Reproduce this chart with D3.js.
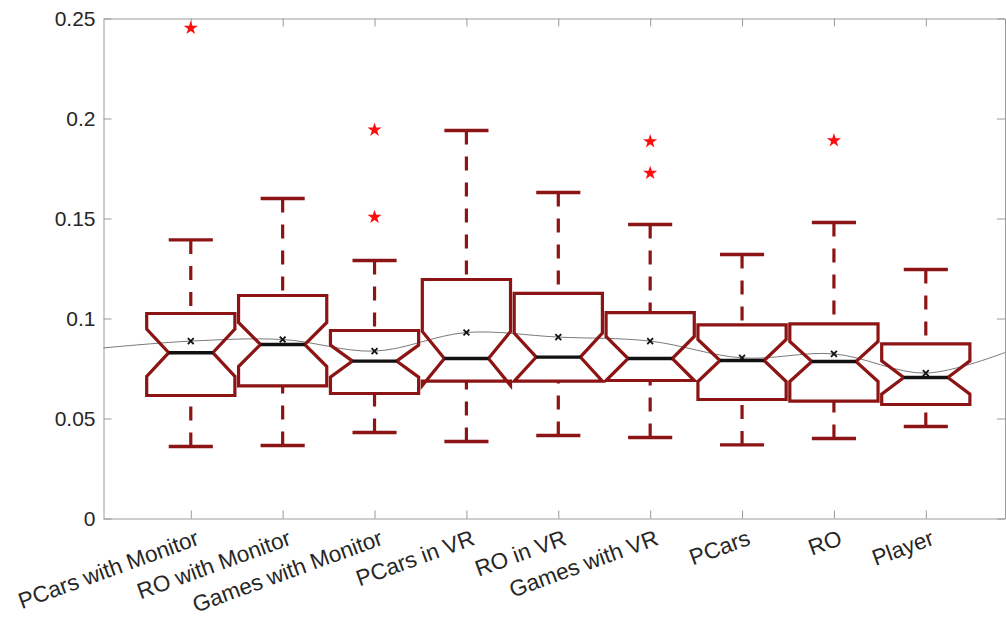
<!DOCTYPE html>
<html>
<head>
<meta charset="utf-8">
<script src="https://cdn.jsdelivr.net/npm/d3@7"></script>
<style>
	body { margin: 0; background: #fff; }
	svg { display: block; }
	.axis text { font-family: 'Liberation Sans', Arial, sans-serif; font-size: 21px; fill: #262626; }
	.axis line, .axis path { stroke: #9a9a9a; stroke-width: 1; }
	.xlabels text { font-size: 22.5px; }
</style>
</head>
<body>
<svg></svg>
<script>
var width = 1006;
var height = 619;

// values
var categories = ['PCars with Monitor', 'RO with Monitor', 'Games with Monitor', 'PCars in VR',
	'RO in VR', 'Games with VR', 'PCars', 'RO', 'Player'];
var upperWhisker = [0.1393, 0.160, 0.129, 0.194, 0.163, 0.147, 0.132, 0.148, 0.1245];
var q3 = [0.1025, 0.1115, 0.094, 0.1195, 0.1126, 0.1029, 0.0968, 0.0973, 0.0873];
var medians = [0.0829, 0.087, 0.0787, 0.080, 0.0807, 0.080, 0.079, 0.0785, 0.0705];
var q1 = [0.0615, 0.0663, 0.0625, 0.0687, 0.0687, 0.069, 0.0595, 0.0587, 0.057];
var lowerWhisker = [0.036, 0.0365, 0.043, 0.0385, 0.0415, 0.0405, 0.0368, 0.040, 0.046];
var means = [0.0887, 0.0895, 0.0837, 0.093, 0.0907, 0.0887, 0.0803, 0.0823, 0.0727];
var notchHalf = [0.0118, 0.011, 0.008, 0.0135, 0.012, 0.011, 0.0105, 0.010, 0.0083];
var outliers = [[1, 0.2452], [3, 0.1943], [3, 0.1507], [6, 0.1885], [6, 0.1727], [8, 0.189]];
var trendEnds = [0.0853, 0.083];
var yTicks = [0, 0.05, 0.1, 0.15, 0.2, 0.25];
var yTickLabels = ['0', '0.05', '0.1', '0.15', '0.2', '0.25'];

var xDomain = [0.05, 9.862];
var boxWidth = 0.96;
var boxColor = '#8c1414';

var svg = d3.select('svg')
			.attr('width', width)
			.attr('height', height);

var xScale = d3.scaleLinear()
			   .domain(xDomain)
			   .range([103.5, 1005]);
var yScale = d3.scaleLinear()
			   .domain([0, 0.25])
			   .range([518.5, 18.5]);

var positions = categories.map((c, i) => i + 1);

drawAxes();
drawTrend();
positions.forEach((p, i) => drawBox(p, i));
drawOutliers();

function drawAxes() {
	var xAxis = d3.axisBottom(xScale)
				  .tickValues(positions)
				  .tickFormat('')
				  .tickSize(-8)
				  .tickSizeOuter(0);
	var xTop = d3.axisTop(xScale)
				 .tickValues(positions)
				 .tickFormat('')
				 .tickSize(-8)
				 .tickSizeOuter(0);
	var yAxis = d3.axisLeft(yScale)
				  .tickValues(yTicks)
				  .tickFormat((d, i) => yTickLabels[i])
				  .tickSize(-8)
				  .tickSizeOuter(0)
				  .tickPadding(8);
	var yRight = d3.axisRight(yScale)
				   .tickValues(yTicks)
				   .tickFormat('')
				   .tickSize(-8)
				   .tickSizeOuter(0);

	svg.append('g')
	    .classed('axis', true)
	    .attr('transform', `translate(0, ${yScale(0)})`)
	    .call(xAxis);
	svg.append('g')
	    .classed('axis', true)
	    .attr('transform', `translate(0, ${yScale(0.25)})`)
	    .call(xTop);
	svg.append('g')
	    .classed('axis', true)
	    .attr('transform', `translate(${xScale(xDomain[0])}, 0)`)
	    .call(yAxis);
	svg.append('g')
	    .classed('axis', true)
	    .attr('transform', `translate(${xScale(xDomain[1])}, 0)`)
	    .call(yRight);

	// rotated category labels
	svg.append('g')
	    .classed('axis', true)
	    .classed('xlabels', true)
	  .selectAll('text')
	  .data(categories)
	  .enter()
	  .append('text')
	    .attr('text-anchor', 'end')
	    .attr('x', (d, i) => xScale(positions[i]) + 4)
	    .attr('y', 529)
	    .attr('dy', '0.72em')
	    .attr('transform', (d, i) => `rotate(-20, ${xScale(positions[i]) + 4}, 529)`)
	    .text(d => d);
}

function drawTrend() {
	var pts = [[xDomain[0], trendEnds[0]]]
		.concat(means.map((m, i) => [positions[i], m]))
		.concat([[xDomain[1], trendEnds[1]]]);
	var line = d3.line()
				 .x(d => xScale(d[0]))
				 .y(d => yScale(d[1]))
				 .curve(d3.curveCatmullRom.alpha(0.5));
	svg.append('path')
	    .attr('d', line(pts))
	    .attr('fill', 'none')
	    .attr('stroke', '#6a6a6a')
	    .attr('stroke-width', 0.9);
}

function drawBox(p, i) {
	var xl = xScale(p - boxWidth / 2);
	var xr = xScale(p + boxWidth / 2);
	var inset = (xr - xl) / 4;
	var cx = xScale(p);
	var capHalf = (xr - xl) / 4;
	var nHi = yScale(medians[i] + notchHalf[i]);
	var nLo = yScale(medians[i] - notchHalf[i]);
	var med = yScale(medians[i]);

	var g = svg.append('g');

	// whiskers, drawn from the cap toward the box
	[[upperWhisker[i], q3[i]], [lowerWhisker[i], q1[i]]].forEach(w => {
		g.append('line')
		    .attr('x1', cx).attr('x2', cx)
		    .attr('y1', yScale(w[0])).attr('y2', yScale(w[1]))
		    .attr('stroke', boxColor)
		    .attr('stroke-width', 3.2)
		    .attr('stroke-dasharray', '14,12');
		g.append('line')
		    .attr('x1', cx - capHalf).attr('x2', cx + capHalf)
		    .attr('y1', yScale(w[0])).attr('y2', yScale(w[0]))
		    .attr('stroke', boxColor)
		    .attr('stroke-width', 3.4);
	});

	var outline = [
		[xl, yScale(q3[i])], [xr, yScale(q3[i])], [xr, nHi], [xr - inset, med], [xr, nLo],
		[xr, yScale(q1[i])], [xl, yScale(q1[i])], [xl, nLo], [xl + inset, med], [xl, nHi]
	];
	g.append('path')
	    .attr('d', 'M' + outline.join('L') + 'Z')
	    .attr('fill', 'none')
	    .attr('stroke', boxColor)
	    .attr('stroke-width', 3.2)
	    .attr('stroke-linejoin', 'miter');

	g.append('line')
	    .attr('x1', xl + inset).attr('x2', xr - inset)
	    .attr('y1', med).attr('y2', med)
	    .attr('stroke', '#111')
	    .attr('stroke-width', 3.4);

	g.append('path')
	    .attr('d', d3.symbol(d3.symbolTimes, 24)())
	    .attr('transform', `translate(${cx}, ${yScale(means[i])})`)
	    .attr('fill', 'none')
	    .attr('stroke', '#111')
	    .attr('stroke-width', 1.8);
}

function drawOutliers() {
	svg.append('g')
	  .selectAll('path')
	  .data(outliers)
	  .enter()
	  .append('path')
	    .attr('d', d3.symbol(d3.symbolStar, 62)())
	    .attr('transform', d => `translate(${xScale(d[0])}, ${yScale(d[1])})`)
	    .attr('fill', '#ff0d0d');
}
</script>
</body>
</html>
